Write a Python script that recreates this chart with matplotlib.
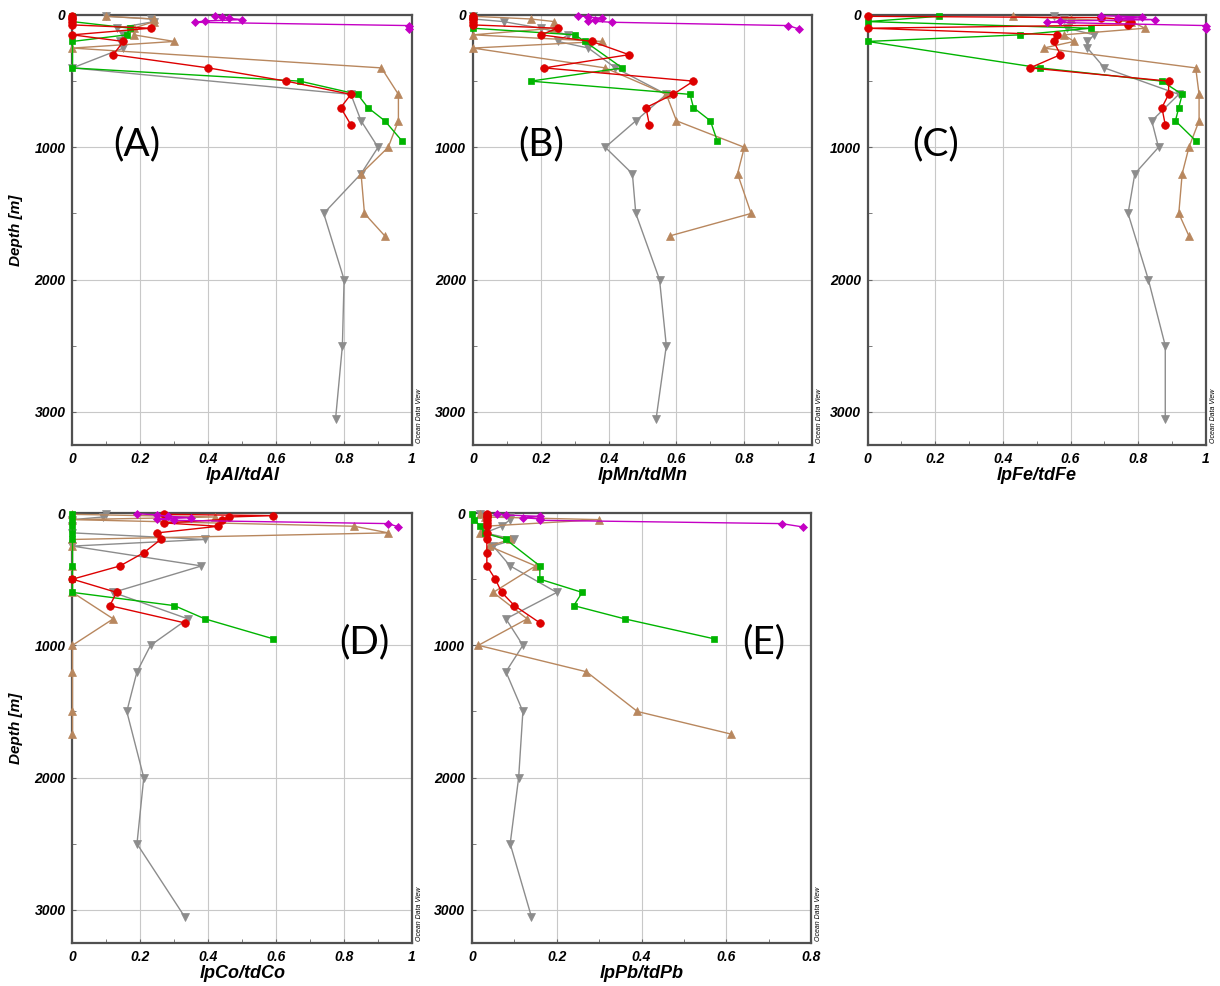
import numpy as np
import matplotlib
matplotlib.use("Agg")
import matplotlib.pyplot as plt

# station sample depths (m)
gray_depth = [10, 30, 50, 100, 150, 200, 250, 400, 600, 800, 1000, 1200, 1500, 2000, 2500, 3050]
brown_depth = [10, 30, 50, 100, 150, 200, 250, 400, 600, 800, 1000, 1200, 1500, 1670]
green_depth = [10, 50, 100, 150, 200, 400, 500, 600, 700, 800, 950]
red_depth = [10, 20, 30, 50, 75, 100, 150, 200, 300, 400, 500, 600, 700, 830]
magenta_depth = [5, 15, 25, 35, 45, 55, 80, 105]

# ratios per panel
gray_A = [0.10, 0.23, 0.24, 0.13, 0.15, 0.14, 0.15, 0.0, 0.82, 0.85, 0.90, 0.85, 0.74, 0.80, 0.795, 0.775]
brown_A = [0.10, 0.24, 0.24, 0.18, 0.18, 0.30, 0.0, 0.91, 0.96, 0.96, 0.93, 0.85, 0.86, 0.92]
green_A = [0.0, 0.0, 0.17, 0.16, 0.0, 0.0, 0.67, 0.84, 0.87, 0.92, 0.97]
red_A = [0.0, 0.0, 0.0, 0.0, 0.0, 0.23, 0.0, 0.15, 0.12, 0.40, 0.63, 0.82, 0.79, 0.82]
magenta_A = [0.42, 0.44, 0.46, 0.50, 0.39, 0.36, 0.99, 0.99]

gray_B = [0.0, 0.0, 0.09, 0.20, 0.28, 0.25, 0.34, 0.42, 0.57, 0.48, 0.39, 0.47, 0.48, 0.55, 0.57, 0.54]
brown_B = [0.0, 0.17, 0.24, 0.24, 0.0, 0.38, 0.0, 0.39, 0.57, 0.60, 0.80, 0.78, 0.82, 0.58]
green_B = [0.0, 0.0, 0.0, 0.30, 0.33, 0.44, 0.17, 0.64, 0.65, 0.70, 0.72]
red_B = [0.0, 0.0, 0.0, 0.0, 0.0, 0.25, 0.20, 0.35, 0.46, 0.21, 0.65, 0.59, 0.51, 0.52]
magenta_B = [0.31, 0.34, 0.38, 0.36, 0.34, 0.41, 0.93, 0.96]

gray_C = [0.55, 0.58, 0.60, 0.59, 0.67, 0.65, 0.65, 0.70, 0.92, 0.84, 0.86, 0.79, 0.77, 0.83, 0.88, 0.88]
brown_C = [0.43, 0.60, 0.78, 0.82, 0.58, 0.61, 0.52, 0.97, 0.98, 0.98, 0.95, 0.93, 0.92, 0.95]
green_C = [0.21, 0.0, 0.66, 0.45, 0.0, 0.51, 0.87, 0.93, 0.92, 0.91, 0.97]
red_C = [0.0, 0.69, 0.74, 0.78, 0.77, 0.0, 0.56, 0.55, 0.57, 0.48, 0.89, 0.89, 0.87, 0.88]
magenta_C = [0.69, 0.81, 0.74, 0.85, 0.57, 0.53, 1.0, 1.0]

gray_D = [0.10, 0.09, 0.0, 0.0, 0.0, 0.39, 0.0, 0.38, 0.12, 0.34, 0.23, 0.19, 0.16, 0.21, 0.19, 0.33]
brown_D = [0.0, 0.42, 0.0, 0.83, 0.93, 0.0, 0.0, 0.0, 0.0, 0.12, 0.0, 0.0, 0.0, 0.0]
green_D = [0.0, 0.0, 0.0, 0.0, 0.0, 0.0, 0.0, 0.0, 0.30, 0.39, 0.59]
red_D = [0.27, 0.59, 0.46, 0.44, 0.27, 0.43, 0.25, 0.26, 0.21, 0.14, 0.0, 0.13, 0.11, 0.33]
magenta_D = [0.19, 0.25, 0.28, 0.35, 0.25, 0.30, 0.93, 0.96]

gray_E = [0.02, 0.09, 0.09, 0.07, 0.03, 0.10, 0.05, 0.09, 0.20, 0.08, 0.12, 0.08, 0.12, 0.11, 0.09, 0.14]
brown_E = [0.02, 0.03, 0.30, 0.03, 0.02, 0.09, 0.04, 0.15, 0.05, 0.13, 0.015, 0.27, 0.39, 0.61]
green_E = [0.0, 0.005, 0.02, 0.03, 0.08, 0.16, 0.16, 0.26, 0.24, 0.36, 0.57]
red_E = [0.035, 0.035, 0.035, 0.035, 0.035, 0.035, 0.035, 0.035, 0.035, 0.035, 0.055, 0.07, 0.10, 0.16]
magenta_E = [0.06, 0.08, 0.16, 0.12, 0.16, 0.16, 0.73, 0.78]

panels = [
    ("A", "lpAl/tdAl", 1.0, gray_A, brown_A, green_A, red_A, magenta_A),
    ("B", "lpMn/tdMn", 1.0, gray_B, brown_B, green_B, red_B, magenta_B),
    ("C", "lpFe/tdFe", 1.0, gray_C, brown_C, green_C, red_C, magenta_C),
    ("D", "lpCo/tdCo", 1.0, gray_D, brown_D, green_D, red_D, magenta_D),
    ("E", "lpPb/tdPb", 0.8, gray_E, brown_E, green_E, red_E, magenta_E),
]

# axes boxes in figure fractions [left, bottom, width, height]
boxes = [
    [0.0594, 0.5487, 0.2783, 0.4361],
    [0.3877, 0.5487, 0.2780, 0.4361],
    [0.7112, 0.5487, 0.2772, 0.4361],
    [0.0594, 0.0436, 0.2783, 0.4361],
    [0.3869, 0.0436, 0.2780, 0.4361],
]
label_pos = [(0.19, 0.70), (0.20, 0.70), (0.20, 0.70), (0.86, 0.70), (0.86, 0.70)]

styles = [
    ("#8c8c8c", "v", 6),
    ("#b8875e", "^", 6),
    ("#00b400", "s", 5),
    ("#dd0000", "o", 5.5),
    ("#c400c4", "D", 4),
]

fig = plt.figure(figsize=(12.2, 9.86), dpi=100)
tickfont = dict(family="Liberation Sans", weight="bold", style="italic")

for i, (tag, xlabel, xmax, g, b, gr, r, m) in enumerate(panels):
    ax = fig.add_axes(boxes[i])
    depths = [gray_depth, brown_depth, green_depth, red_depth, magenta_depth]
    for (col, mk, ms), d, v in zip(styles, depths, [g, b, gr, r, m]):
        ax.plot(v, d, color=col, marker=mk, markersize=ms, linewidth=1.0,
                markeredgewidth=0.5, clip_on=False, zorder=3)
    ax.set_xlim(0, xmax)
    ax.set_ylim(3250, 0)
    ax.set_xticks(np.arange(0, xmax + 0.01, 0.2))
    ax.set_xticks(np.arange(0.1, xmax, 0.2), minor=True)
    ax.set_xticklabels(["0" if t == 0 else ("1" if t == 1 else f"{t:.1f}")
                        for t in np.arange(0, xmax + 0.01, 0.2)], fontdict=tickfont, fontsize=10)
    ax.set_yticks([0, 1000, 2000, 3000])
    ax.set_yticks([500, 1500, 2500], minor=True)
    ax.set_yticklabels(["0", "1000", "2000", "3000"], fontdict=tickfont, fontsize=10)
    ax.tick_params(which="both", direction="in", length=3, color="#666666", pad=5)
    ax.grid(True, which="major", color="#c8c8c8", linewidth=0.8)
    ax.set_axisbelow(True)
    for s in ax.spines.values():
        s.set_color("#505050")
        s.set_linewidth(1.6)
    ax.set_xlabel(xlabel, fontsize=13, labelpad=1, **tickfont)
    if tag in ("A", "D"):
        ax.set_ylabel("Depth [m]", fontsize=11, labelpad=8, **tickfont)
    ax.text(label_pos[i][0], label_pos[i][1], f"({tag})", transform=ax.transAxes,
            fontsize=28, family="Lato", ha="center", va="center")
    ax.text(1.012, 0.005, "Ocean Data View", transform=ax.transAxes, rotation=90,
            fontsize=5, style="italic", family="Liberation Sans", ha="left", va="bottom")

fig.savefig("out.png", dpi=100)
